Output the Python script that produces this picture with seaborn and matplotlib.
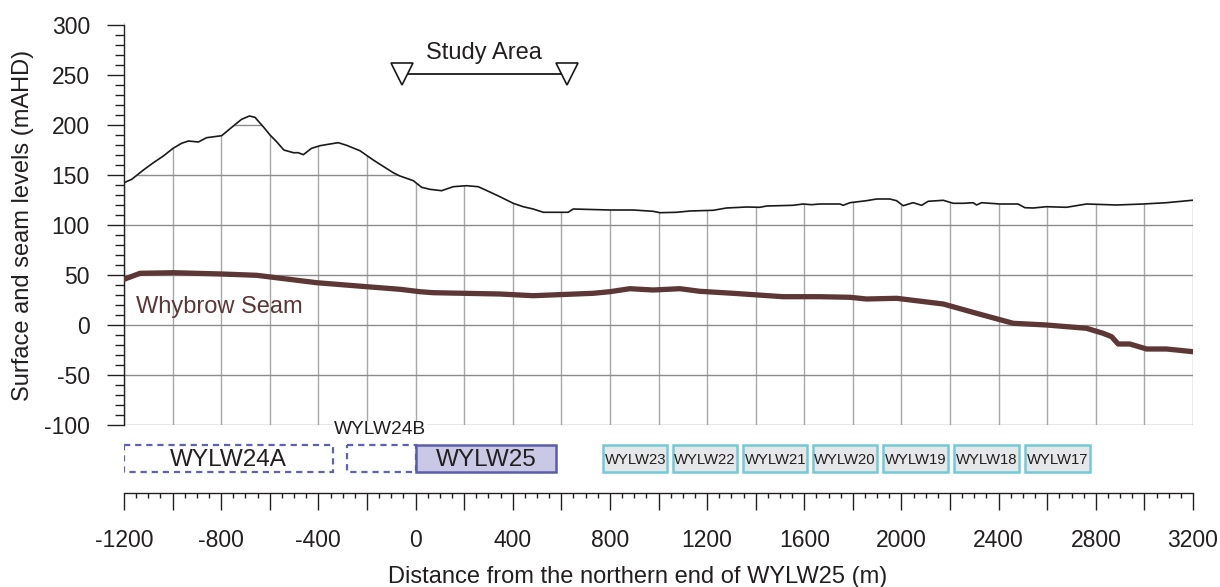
import matplotlib
matplotlib.use("Agg")
import matplotlib.pyplot as plt
import seaborn as sns
import pandas as pd
from matplotlib.ticker import MultipleLocator, FuncFormatter

# ---------------- data ----------------
surface_x = [-1200, -1168, -1120, -1079, -1038, -998, -963, -935, -894, -860,
             -798, -750, -716, -684, -661, -627, -599, -572, -542, -503,
             -483, -462, -428, -393, -352, -318, -284, -229, -174, -92,
             -64, -9, 25, 59, 107, 155, 210, 258, 306, 347,
             402, 443, 484, 526, 628, 649, 800, 896, 978, 1006,
             1074, 1129, 1225, 1280, 1363, 1417, 1445, 1554, 1595, 1630,
             1664, 1747, 1760, 1788, 1856, 1898, 1952, 1980, 2007, 2048,
             2083, 2110, 2172, 2213, 2254, 2295, 2309, 2330, 2405, 2480,
             2508, 2542, 2597, 2679, 2762, 2885, 2995, 3091, 3200]
surface_y = [142.3, 145.7, 155, 162.3, 169, 176.7, 181.7, 184, 183, 187.3,
             189.3, 199, 205.7, 209, 207.7, 198.3, 190, 183.3, 175, 172.3,
             172.3, 170.3, 176.7, 179.3, 181, 182.3, 179.7, 174.3, 165, 152.3,
             149, 144.3, 137.7, 135.7, 134.3, 138.3, 139.3, 138.3, 133, 128.3,
             121.7, 118.3, 116, 112.7, 112.7, 116, 115, 115, 113.7, 112.3,
             112.7, 114, 114.7, 117, 118, 117.7, 119, 119.7, 121, 120.3,
             121, 121, 119.7, 122.3, 124.3, 126, 126, 124.3, 119.3, 122.3,
             119.7, 123.7, 124.7, 121.7, 121.7, 122.3, 120, 122.3, 121, 121,
             117.3, 117, 118.3, 117.7, 121, 120, 121, 122.3, 124.8]

seam_x = [-1200, -1134, -997, -798, -654, -407, -201, -64, 18, 73,
          347, 484, 731, 800, 882, 978, 1088, 1170, 1307, 1513,
          1664, 1788, 1856, 1980, 2172, 2309, 2460, 2597, 2762, 2830,
          2865, 2892, 2940, 3009, 3091, 3200]
seam_y = [45.7, 51.7, 52.3, 51, 49.7, 42.3, 38.3, 35.7, 33.3, 32.3,
          31, 29.3, 31.7, 33.3, 36.3, 35, 36.3, 33.7, 31.7, 28.3,
          28.3, 27.7, 26, 26.7, 21, 11.7, 1.7, 0, -3.3, -8.3,
          -11.7, -19, -19, -24, -24, -26.7]

study_x = [-56, 622]
study_level = [251, 251]

panel_names = ["WYLW24A", "WYLW24B", "WYLW25", "WYLW23", "WYLW22", "WYLW21",
               "WYLW20", "WYLW19", "WYLW18", "WYLW17"]
panel_start = [-1200, -282, 0, 772, 1058, 1349, 1634, 1925, 2217, 2509]
panel_end = [-340, 0, 580, 1037, 1324, 1612, 1900, 2191, 2483, 2775]

# ---------------- styling ----------------
sns.set_theme(style="white")
plt.rcParams["font.family"] = ["Liberation Sans", "DejaVu Sans"]
plt.rcParams["axes.unicode_minus"] = False
TXT = "#231f20"
SEAM = "#5c3736"
plt.rcParams["text.color"] = TXT

W, H = 1220, 587
fig = plt.figure(figsize=(W / 100, H / 100), dpi=100)

L, R = 124, 1193
# y range -100..302 over 402 px so that 300 sits at px 25 and its grid line can be masked
ax1 = fig.add_axes([L / W, 1 - 425 / H, (R - L) / W, 402 / H])
ax1.set_xlim(-1200, 3200)
ax1.set_ylim(-100, 302)
ax1.set_axisbelow(True)
ax1.set_xticks(list(range(-1200, 3201, 200)))
ax1.set_yticks(list(range(-100, 301, 50)))
ax1.yaxis.set_minor_locator(MultipleLocator(10))
ax1.grid(axis="y", color="#8c8c8c", lw=1.0)
ax1.grid(axis="x", color="#a8a8a8", lw=1.0)
ax1.tick_params(axis="x", bottom=False, labelbottom=False)
ax1.tick_params(axis="y", which="major", left=True, length=12.5, width=1,
                direction="out", labelsize=16.5, pad=12, color=TXT, labelcolor=TXT)
ax1.tick_params(axis="y", which="minor", left=True, length=6.5, width=1,
                direction="out", color=TXT)
for s in ["top", "right", "bottom"]:
    ax1.spines[s].set_visible(False)
ax1.spines["left"].set_color(TXT)
ax1.spines["left"].set_linewidth(1.0)
ax1.spines["left"].set_bounds(-100, 300)
ax1.spines["left"].set_zorder(2.5)

# white mask above ground surface (hides grid above the surface)
ax1.fill_between(surface_x, surface_y, 320, color="white", lw=0, zorder=1)

sns.lineplot(x=surface_x, y=surface_y, ax=ax1, color="#1a1a1a", lw=1.2, zorder=3)
sns.lineplot(x=seam_x, y=seam_y, ax=ax1, color=SEAM, lw=3.8, zorder=3)
ax1.text(-1151, 12, "Whybrow Seam", color=SEAM, fontsize=17, va="baseline", zorder=4)

sns.lineplot(x=study_x, y=study_level, ax=ax1, color="#1a1a1a", lw=1.3,
             marker="v", markersize=16, markerfacecolor="white",
             markeredgecolor="#1a1a1a", markeredgewidth=1.2, zorder=4)
ax1.text(sum(study_x) / 2, 265.7, "Study Area", ha="center", va="baseline",
         fontsize=17, zorder=4)
ax1.set_xlabel("")
ax1.set_ylabel("")

# ---------------- panel strip + distance axis ----------------
ax2 = fig.add_axes([L / W, 1 - 493 / H, (R - L) / W, 68 / H])
ax2.set_xlim(-1200, 3200)
ax2.set_ylim(68, 0)
ax2.patch.set_alpha(0)
for s in ["top", "right", "left"]:
    ax2.spines[s].set_visible(False)
ax2.spines["bottom"].set_color(TXT)
ax2.spines["bottom"].set_linewidth(1.0)
ax2.set_yticks([])
ax2.xaxis.set_major_locator(MultipleLocator(200))
ax2.xaxis.set_minor_locator(MultipleLocator(50))
ax2.xaxis.set_major_formatter(FuncFormatter(lambda v, p: f"{int(round(v))}" if round(v) % 400 == 0 else ""))
ax2.tick_params(axis="x", which="major", bottom=True, length=12, width=1, direction="out",
                labelsize=16.5, pad=14, color=TXT, labelcolor=TXT)
ax2.tick_params(axis="x", which="minor", bottom=True, length=3.5, width=1, direction="out", color=TXT)

yc, hh = 33.5, 27
for name, a, b in zip(panel_names, panel_start, panel_end):
    mid = (a + b) / 2
    if name in ("WYLW24A", "WYLW24B"):
        ax2.barh(yc, b - a, left=a, height=hh, facecolor="none", edgecolor="#5f61b3",
                 lw=1.6, linestyle=(0, (2.8, 2.2)))
        if name == "WYLW24A":
            ax2.text(mid, yc + 1, name, ha="center", va="center", fontsize=17.5)
        else:
            ax2.text(-146, 5, name, ha="center", va="center", fontsize=13.8, clip_on=False,
                     bbox=dict(facecolor="white", edgecolor="none", pad=0.5))
    elif name == "WYLW25":
        ax2.barh(yc, b - a, left=a, height=hh, facecolor="#c9c8e5", edgecolor="#5b5dab", lw=1.8)
        ax2.text(mid, yc + 1, name, ha="center", va="center", fontsize=17.5)
    else:
        ax2.barh(yc, b - a, left=a, height=hh, facecolor="#e6e7e8", edgecolor="#72cad8", lw=1.8)
        ax2.text(mid, yc + 1, name, ha="center", va="center", fontsize=10.7)

fig.text(638 / W, 1 - 583 / H, "Distance from the northern end of WYLW25 (m)",
         ha="center", va="baseline", fontsize=17)
fig.text(23 / W, 1 - 225 / H, "Surface and seam levels (mAHD)", rotation=90,
         ha="center", va="center", fontsize=17)

fig.savefig("out.png", dpi=100)
